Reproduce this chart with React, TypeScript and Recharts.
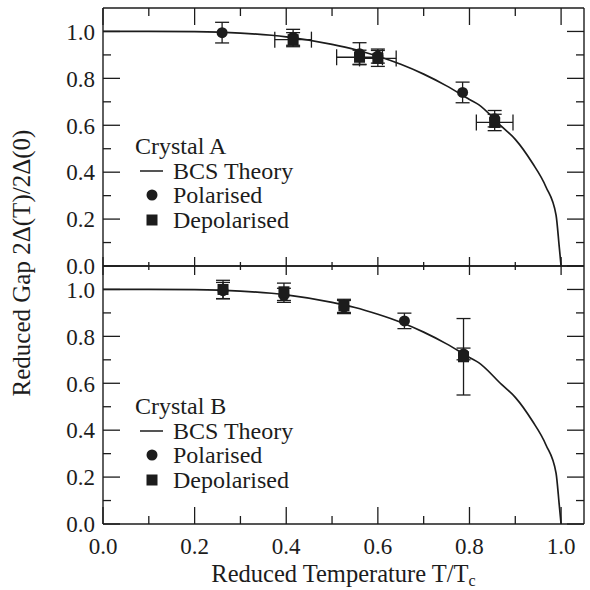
import React from "react";
import { ComposedChart, XAxis, YAxis, Line, Scatter, ErrorBar, Legend } from "recharts";

const INK = "#1c1c1c";
const FONT = "'Liberation Serif', 'Times New Roman', serif";

// axis ticks (minor every 0.1, labels every 0.2)
const xTicks = [0, 0.1, 0.2, 0.3, 0.4, 0.5, 0.6, 0.7, 0.8, 0.9, 1.0];
const yTicks = [0, 0.1, 0.2, 0.3, 0.4, 0.5, 0.6, 0.7, 0.8, 0.9, 1.0];
const labelledTicks = [0, 0.2, 0.4, 0.6, 0.8, 1.0];

// BCS theory curve
const bcsT = [0, 0.1, 0.2, 0.3, 0.4, 0.5, 0.55, 0.6, 0.65, 0.7, 0.75, 0.8, 0.82, 0.87, 0.9, 0.937, 0.967, 0.989, 0.996, 1.0];
const bcsV = [1.0, 1.0, 0.999, 0.993, 0.977, 0.945, 0.923, 0.894, 0.86, 0.818, 0.768, 0.71, 0.688, 0.595, 0.54, 0.44, 0.337, 0.217, 0.081, 0];

// Crystal A
const aPolarised = [
  { t: 0.26, v: 0.995, dv: 0.044 },
  { t: 0.415, v: 0.975, dv: 0.034 },
  { t: 0.56, v: 0.905, dv: 0.047 },
  { t: 0.6, v: 0.895, dv: 0.03 },
  { t: 0.785, v: 0.74, dv: 0.044 },
  { t: 0.855, v: 0.628, dv: 0.035 },
];
const aDepolarised = [
  { t: 0.415, v: 0.965, dv: 0.03, dt: 0.04 },
  { t: 0.56, v: 0.89, dv: 0.03, dt: 0.05 },
  { t: 0.6, v: 0.885, dv: 0.034, dt: 0.04 },
  { t: 0.855, v: 0.612, dv: 0.035, dt: 0.04 },
];

// Crystal B
const bPolarised = [
  { t: 0.262, v: 0.995, dv: 0.035 },
  { t: 0.395, v: 0.975, dv: 0.03 },
  { t: 0.526, v: 0.925, dv: 0.028 },
  { t: 0.658, v: 0.866, dv: 0.033 },
  { t: 0.787, v: 0.725, dv: 0.025 },
];
const bDepolarised = [
  { t: 0.262, v: 1.0, dv: 0.039 },
  { t: 0.395, v: 0.99, dv: 0.037 },
  { t: 0.526, v: 0.93, dv: 0.028 },
  { t: 0.787, v: 0.713, dv: 0.163 },
];

const legendLabels = ["BCS Theory", "Polarised", "Depolarised"];

const bcs = bcsT.map((t, i) => ({ t, v: bcsV[i] }));

type Side = "left" | "right" | "top" | "bottom";
const isMajor = (v: number) => labelledTicks.some((m) => Math.abs(m - v) < 1e-6);

const makeTick = (side: Side, majorLen: number, minorLen: number, labelled: boolean) =>
  function Tick(props: any) {
    const { x, y, payload } = props;
    const value = Number(payload.value);
    const major = isMajor(value);
    const len = major ? majorLen : minorLen;
    let x2 = x;
    let y2 = y;
    if (side === "left") x2 = x + len;
    if (side === "right") x2 = x - len;
    if (side === "top") y2 = y + len;
    if (side === "bottom") y2 = y - len;
    let label = null;
    if (labelled && major) {
      label =
        side === "left" ? (
          <text x={x - 8} y={y} dy="0.36em" textAnchor="end" fill={INK} fontSize={23} fontFamily={FONT}>
            {value.toFixed(1)}
          </text>
        ) : (
          <text x={x} y={y + 14} dy="0.71em" textAnchor="middle" fill={INK} fontSize={23} fontFamily={FONT}>
            {value.toFixed(1)}
          </text>
        );
    }
    return (
      <g>
        <line x1={x} y1={y} x2={x2} y2={y2} stroke={INK} strokeWidth={1.3} />
        {label}
      </g>
    );
  };

const dot = (p: any) => <circle cx={p.cx} cy={p.cy} r={5.5} fill={INK} />;
const box = (p: any) => <rect x={p.cx - 5.5} y={p.cy - 5.5} width={11} height={11} fill={INK} />;

const LegendBox = ({ title }: { title: string }) => (
  <div style={{ fontFamily: FONT, fontSize: 24, color: INK, lineHeight: "24.5px", whiteSpace: "nowrap" }}>
    <div>{title}</div>
    {legendLabels.map((name, i) => (
      <div key={name} style={{ display: "flex", alignItems: "center", height: 24.5 }}>
        <svg width={38} height={24}>
          {i === 0 && <line x1={5} x2={28} y1={12} y2={12} stroke={INK} strokeWidth={1.5} />}
          {i === 1 && <circle cx={17} cy={12} r={5.5} fill={INK} />}
          {i === 2 && <rect x={11.5} y={6.5} width={11} height={11} fill={INK} />}
        </svg>
        <span>{name}</span>
      </div>
    ))}
  </div>
);

const axisLine = { stroke: INK, strokeWidth: 1.4 };

const Panel = ({
  title,
  polarised,
  depolarised,
  height,
  margin,
  topLen,
  bottomLen,
  bottomHeight,
  labelled,
  legendTop,
}: any) => (
  <ComposedChart width={590} height={height} margin={margin}>
    <XAxis
      xAxisId="b"
      dataKey="t"
      type="number"
      orientation="bottom"
      domain={[0, 1.05]}
      allowDataOverflow
      ticks={xTicks}
      interval={0}
      height={bottomHeight}
      tickSize={0}
      tickMargin={0}
      tickLine={false}
      axisLine={axisLine}
      tick={makeTick("bottom", bottomLen[0], bottomLen[1], labelled)}
      label={
        labelled
          ? {
              content: (lp: any) => {
                const vb = lp.viewBox;
                return (
                  <text x={vb.x + vb.width / 2} y={vb.y + vb.height - 8} textAnchor="middle" fill={INK} fontSize={24.5} fontFamily={FONT}>
                    Reduced Temperature T/T
                    <tspan dy={3.5} fontSize={16}>c</tspan>
                  </text>
                );
              },
            }
          : undefined
      }
    />
    <XAxis
      xAxisId="t"
      dataKey="t"
      type="number"
      orientation="top"
      domain={[0, 1.05]}
      allowDataOverflow
      ticks={xTicks}
      interval={0}
      height={1}
      tickSize={0}
      tickMargin={0}
      tickLine={false}
      axisLine={axisLine}
      tick={makeTick("top", topLen[0], topLen[1], false)}
    />
    <YAxis
      yAxisId="l"
      dataKey="v"
      type="number"
      orientation="left"
      domain={[0, 1.1]}
      allowDataOverflow
      ticks={yTicks}
      interval={0}
      width={103}
      tickSize={0}
      tickMargin={0}
      tickLine={false}
      axisLine={axisLine}
      tick={makeTick("left", 17, 8, true)}
    />
    <YAxis
      yAxisId="r"
      dataKey="v"
      type="number"
      orientation="right"
      domain={[0, 1.1]}
      allowDataOverflow
      ticks={yTicks}
      interval={0}
      width={1}
      tickSize={0}
      tickMargin={0}
      tickLine={false}
      axisLine={axisLine}
      tick={makeTick("right", 17, 8, false)}
    />
    <Legend
      layout="vertical"
      align="center"
      verticalAlign="middle"
      wrapperStyle={{ left: 135, top: legendTop, width: "auto" }}
      content={() => <LegendBox title={title} />}
    />
    <Line
      xAxisId="t"
      yAxisId="r"
      data={bcs}
      dataKey="v"
      name="BCS Theory"
      type="monotone"
      stroke={INK}
      strokeWidth={1.7}
      dot={false}
      activeDot={false}
      isAnimationActive={false}
    />
    <Scatter xAxisId="b" yAxisId="l" data={polarised} name="Polarised" shape={dot} isAnimationActive={false}>
      <ErrorBar dataKey="dv" direction="y" width={7} stroke={INK} strokeWidth={1.3} isAnimationActive={false} />
    </Scatter>
    <Scatter xAxisId="b" yAxisId="l" data={depolarised} name="Depolarised" shape={box} isAnimationActive={false}>
      <ErrorBar dataKey="dv" direction="y" width={7} stroke={INK} strokeWidth={1.3} isAnimationActive={false} />
      <ErrorBar dataKey="dt" direction="x" width={8} stroke={INK} strokeWidth={1.3} isAnimationActive={false} />
    </Scatter>
  </ComposedChart>
);

export default function App() {
  return (
    <div style={{ position: "absolute", left: 0, top: 0, width: 590, height: 590, background: "#fff" }}>
      <style>{`.recharts-surface { overflow: visible; }`}</style>
      <div style={{ position: "absolute", left: 0, top: 265 }}>
        <Panel
          title="Crystal B"
          polarised={bPolarised}
          depolarised={bDepolarised}
          height={325}
          margin={{ top: 0, right: 5, bottom: 0, left: 0 }}
          topLen={[9, 4]}
          bottomLen={[17, 8]}
          bottomHeight={66}
          labelled={true}
          legendTop={129}
        />
      </div>
      <div style={{ position: "absolute", left: 0, top: 0 }}>
        <Panel
          title="Crystal A"
          polarised={aPolarised}
          depolarised={aDepolarised}
          height={267}
          margin={{ top: 7, right: 5, bottom: 0, left: 0 }}
          topLen={[17, 8]}
          bottomLen={[9, 4]}
          bottomHeight={1}
          labelled={false}
          legendTop={134}
        />
      </div>
      <div
        style={{
          position: "absolute",
          left: 22,
          top: 263,
          transform: "translate(-50%, -50%) rotate(-90deg)",
          whiteSpace: "nowrap",
          fontFamily: FONT,
          fontSize: 25,
          color: INK,
        }}
      >
        Reduced Gap 2Δ(T)/2Δ(0)
      </div>
    </div>
  );
}
